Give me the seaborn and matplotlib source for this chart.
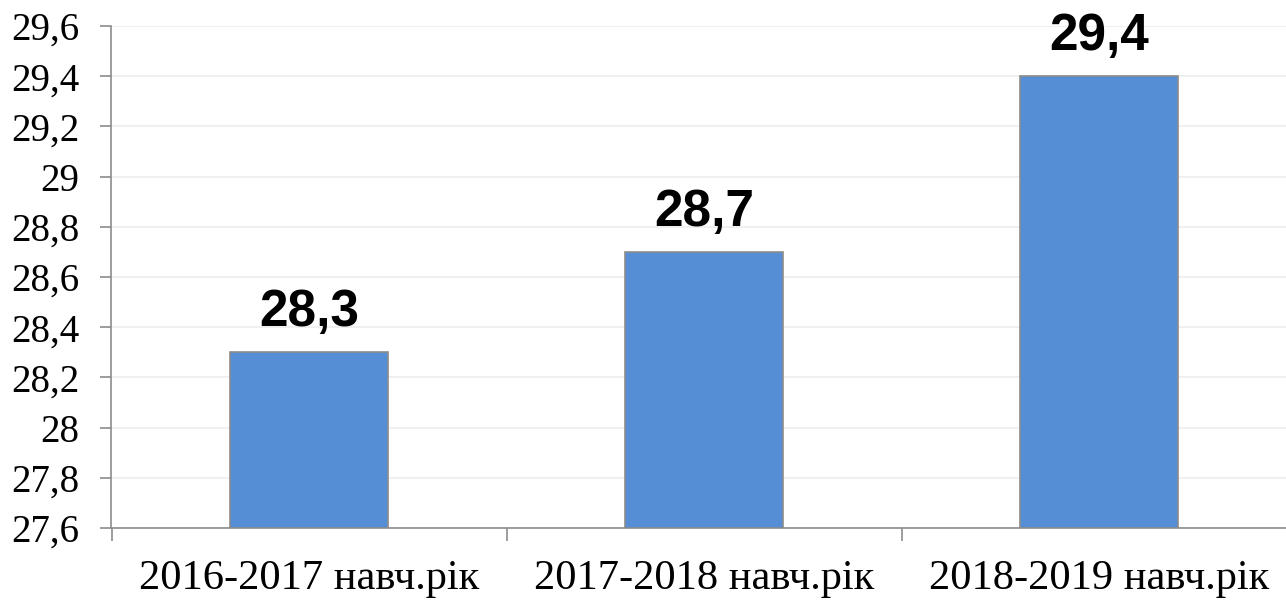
import matplotlib
matplotlib.use("Agg")
import matplotlib.pyplot as plt
from matplotlib.ticker import FuncFormatter, MultipleLocator, FixedLocator
import seaborn as sns

years = ["2016-2017 навч.рік", "2017-2018 навч.рік", "2018-2019 навч.рік"]
values = [28.3, 28.7, 29.4]
value_labels = ["28,3", "28,7", "29,4"]

sns.set_style("white")
plt.rcParams['font.family'] = ['Liberation Serif', 'DejaVu Serif']
plt.rcParams['text.color'] = 'black'
plt.rcParams['xtick.labelcolor'] = 'black'
plt.rcParams['ytick.labelcolor'] = 'black'

fig = plt.figure(figsize=(12.86, 6.01), dpi=100)
ax = fig.add_axes([111.5 / 1286, 73 / 601, 1185 / 1286, 502 / 601])

sns.barplot(x=years, y=values, color="#558ED5", width=0.4,
            edgecolor="#8C8C8C", linewidth=1.2, saturation=1, ax=ax)

ax.set_ylim(27.6, 29.6)
ax.set_xlim(-0.5, 2.5)
ax.yaxis.set_major_locator(MultipleLocator(0.2))
ax.yaxis.set_major_formatter(FuncFormatter(lambda v, p: f"{round(v, 1):g}".replace(".", ",")))
ax.grid(axis="y", color="#EDEDED", linewidth=1.2)
ax.set_axisbelow(True)

for s in ["top", "right"]:
    ax.spines[s].set_visible(False)
for s in ["left", "bottom"]:
    ax.spines[s].set_color("#8C8C8C")
    ax.spines[s].set_linewidth(1.2)

ax.tick_params(axis="y", length=8, width=1.2, color="#8C8C8C", labelsize=28, pad=15, left=True)
ax.tick_params(axis="x", which="major", length=0, labelsize=30.6, pad=23)
ax.xaxis.set_minor_locator(FixedLocator([-0.5, 0.5, 1.5]))
ax.tick_params(axis="x", which="minor", length=9, width=1.2, color="#8C8C8C", bottom=True)

for i, (v, lab) in enumerate(zip(values, value_labels)):
    ax.annotate(lab, (i, v), xytext=(0, 11), textcoords="offset points",
                ha="center", va="bottom", fontsize=37, fontweight="bold",
                family=["Liberation Sans", "DejaVu Sans"])

ax.set_xlabel("")
ax.set_ylabel("")
fig.savefig("out.png", dpi=100)
